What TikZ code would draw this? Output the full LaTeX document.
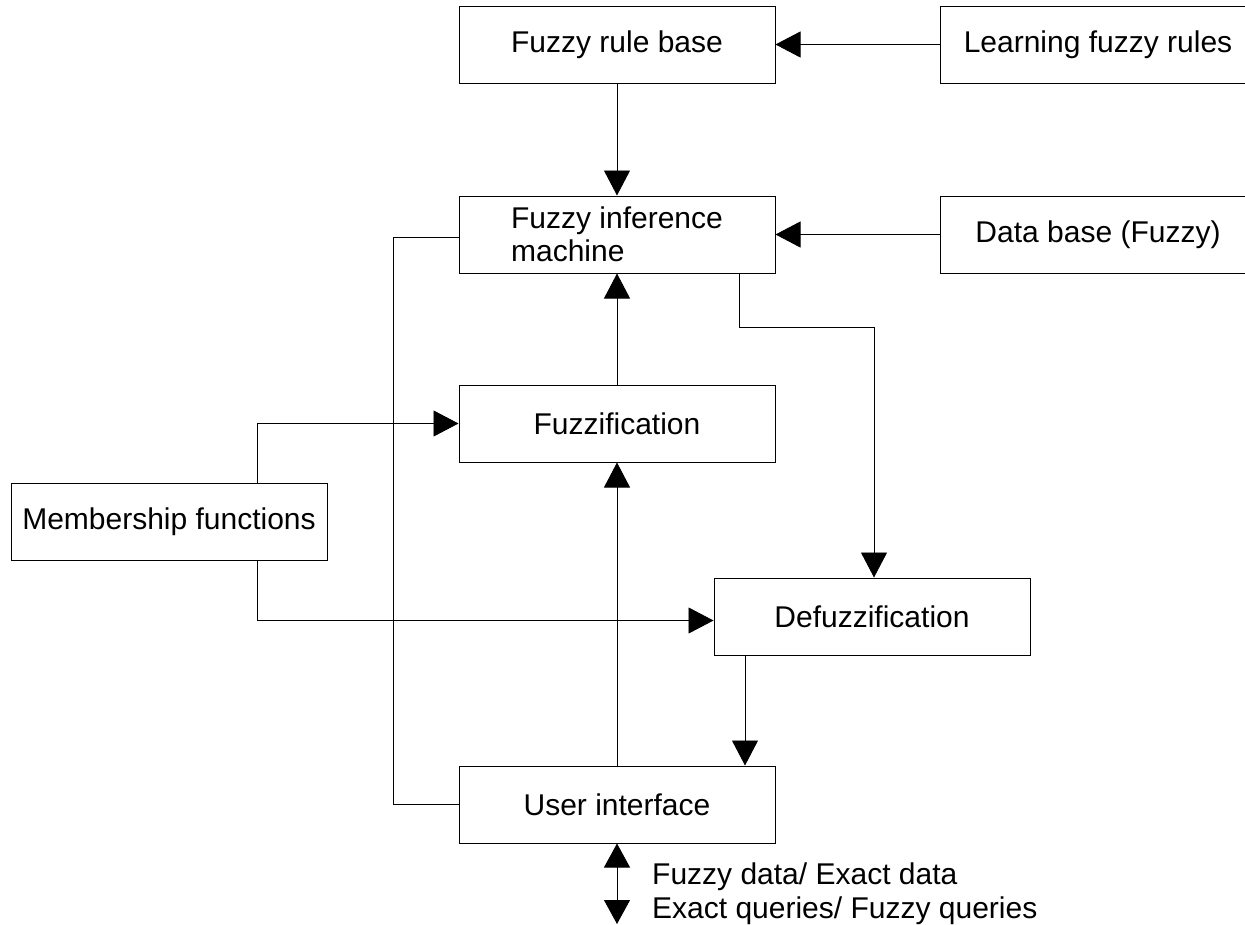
\documentclass[tikz,border=0pt]{standalone}
\usepackage{fontspec}
\setmainfont{Liberation Sans}
\usetikzlibrary{arrows.meta}
\begin{document}
\begin{tikzpicture}[x=1pt,y=-1pt,
  blk/.style={draw=black,line width=1pt,minimum width=316pt,minimum height=77pt,inner sep=0pt,
    font=\fontsize{30}{33}\selectfont},
  conn/.style={draw=black,line width=0.9pt},
  tip/.style={},
  arr/.style={conn,-{Triangle[length=25pt,width=26pt,fill=black]}},
  darr/.style={conn,{Triangle[length=24pt,width=26pt,fill=black]}-{Triangle[length=24pt,width=26pt,fill=black]}},
  lbl/.style={inner sep=0pt,font=\fontsize{30}{33}\selectfont}]
\useasboundingbox (0,0) rectangle (1245,924);
\node[blk] (rb) at (617,44.5) {Fuzzy rule base};
\node[blk] (lr) at (1098,44.5) {Learning fuzzy rules};
\node[blk,align=left] (inf) at (617,234.5) {Fuzzy inference\\machine};
\node[blk] (db) at (1098,234.5) {Data base (Fuzzy)};
\node[blk] (fz) at (617,423.5) {Fuzzification};
\node[blk] (mf) at (169,521.5) {Membership functions};
\node[blk] (df) at (872,616.5) {Defuzzification};
\node[blk] (ui) at (617,804.5) {User interface};
\coordinate (loopx) at (393,0);
\coordinate (bot) at (617,924);
\node[lbl,anchor=base west] (l1) at (652,884) {Fuzzy data/ Exact data};
\node[lbl,anchor=base west] (l2) at (652,918) {Exact queries/ Fuzzy queries};

\draw[arr] (lr.west) -- (rb.east);
\draw[arr] (rb.south) -- (inf.north);
\draw[arr] (db.west) -- (inf.east);
\draw[arr] (fz.north) -- (inf.south);
\draw[arr] (ui.north) -- (fz.south);
\draw[arr] ([xshift=88pt]mf.north) |- (fz.west);
\draw[arr] ([xshift=88pt]mf.south) |- ([yshift=-4pt]df.west);
\draw[conn] ([yshift=-3pt]inf.west) -| (loopx |- ui.west) -- (ui.west);
\draw[arr] ([xshift=122pt]inf.south) -- ++(0,54) -| ([xshift=2pt]df.north);
\draw[arr] ([xshift=-127pt]df.south) -- ([xshift=-127pt]df.south |- ui.north);
\draw[darr] (ui.south) -- (bot);
\end{tikzpicture}
\end{document}
